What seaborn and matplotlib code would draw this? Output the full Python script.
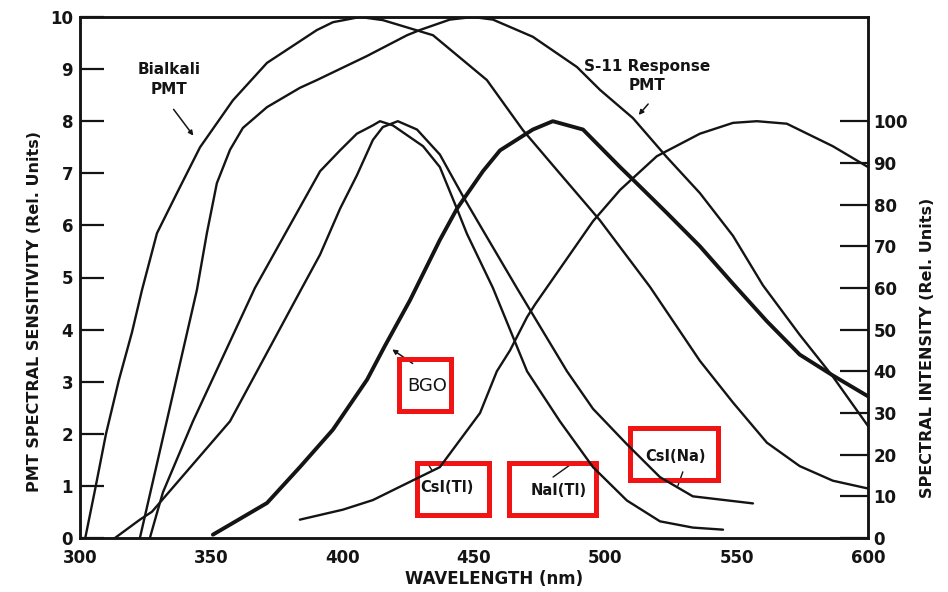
import numpy as np
import pandas as pd
import matplotlib
matplotlib.use("Agg")
import matplotlib.pyplot as plt
import seaborn as sns
from matplotlib.patches import Rectangle

# PMT spectral sensitivity (left axis, rel. units)
bialkali_wl = [302.0, 305.7, 309.9, 314.8, 319.8, 323.6, 329.3, 336.9, 345.7, 358.2, 371.2, 390.2,
               396.3, 406.6, 415.3, 434.4, 454.9, 468.6, 481.6, 497.9, 517.0, 536.0, 548.6, 561.5,
               574.0, 586.6, 600.0]
bialkali_val = [0.0, 0.92, 2.0, 3.03, 3.95, 4.76, 5.85, 6.62, 7.5, 8.4, 9.12, 9.75,
                9.9, 10.0, 9.94, 9.65, 8.79, 7.83, 7.06, 6.1, 4.82, 3.4, 2.6, 1.83,
                1.38, 1.1, 0.95]

s11_wl = [322.8, 333.1, 344.5, 348.3, 352.1, 357.1, 362.0, 371.2, 383.7, 390.2, 409.2, 424.5,
          429.4, 440.8, 449.6, 457.2, 472.4, 489.2, 498.0, 510.5, 523.4, 536.0, 548.6, 560.0,
          574.0, 586.6, 600.0]
s11_val = [0.0, 2.26, 4.76, 5.85, 6.81, 7.45, 7.87, 8.27, 8.64, 8.79, 9.25, 9.65,
           9.75, 9.95, 10.0, 9.95, 9.62, 9.04, 8.6, 8.06, 7.31, 6.62, 5.8, 4.85,
           3.9, 3.1, 2.15]

# emission spectra (right axis, rel. units 0-100)
bgo_wl = [350.6, 358.2, 371.2, 383.7, 396.3, 409.3, 416.0, 425.6, 437.0, 443.5, 453.4, 459.9,
          472.4, 480.0, 491.5, 505.6, 510.5, 523.4, 536.0, 548.6, 561.5, 574.0, 586.6, 600.0]
bgo_int = [0.8, 3.6, 8.4, 17, 26, 38, 46, 57, 71.5, 79, 88, 93,
           98, 100, 98, 89, 86, 78, 70, 61, 52, 44, 39, 34]

csitl_wl = [383.7, 400.1, 411.5, 421.8, 437.0, 452.3, 458.7, 463.7, 470.2, 473.2, 495.3, 505.6,
            519.6, 536.0, 548.6, 557.7, 569.1, 586.6, 600.0]
csitl_int = [4.4, 6.8, 9.1, 12.3, 17, 30, 40, 45, 53, 56, 76, 83.5,
             91.6, 97, 99.6, 100, 99.4, 94, 89]

nai_wl = [326.6, 329.3, 331.6, 343.0, 366.6, 391.4, 399.0, 405.4, 411.5, 414.2, 419.1, 430.6,
          437.0, 443.5, 447.3, 457.2, 470.2, 482.7, 495.3, 508.2, 520.8, 533.3, 544.8]
nai_int = [0, 6, 11, 28, 60, 88, 93, 97, 99, 100, 99, 94,
           89, 79, 73, 60, 40, 28, 17, 9, 4, 2.5, 2]

csina_wl = [313.3, 322.8, 327.4, 357.1, 384.5, 391.4, 399.0, 405.4, 411.5, 415.3, 421.0, 428.3,
            437.0, 445.8, 452.3, 466.3, 485.4, 495.3, 508.2, 520.8, 533.3, 556.2]
csina_int = [0, 4.4, 6.3, 28, 60, 68, 79, 87, 95.5, 98.6, 100, 98,
             92, 82, 75, 60, 40, 31, 22.5, 14.6, 10, 8.3]

x_ticks = [300, 350, 400, 450, 500, 550, 600]
left_ticks = list(range(0, 11))
right_ticks = list(range(0, 101, 10))

pmt = pd.concat([
    pd.DataFrame({'wl': bialkali_wl, 'val': bialkali_val, 'curve': 'Bialkali'}),
    pd.DataFrame({'wl': s11_wl, 'val': s11_val, 'curve': 'S-11'}),
])
emis = pd.concat([
    pd.DataFrame({'wl': csitl_wl, 'val': csitl_int, 'curve': 'CsI(Tl)'}),
    pd.DataFrame({'wl': nai_wl, 'val': nai_int, 'curve': 'NaI(Tl)'}),
    pd.DataFrame({'wl': csina_wl, 'val': csina_int, 'curve': 'CsI(Na)'}),
])
bgo = pd.DataFrame({'wl': bgo_wl, 'val': bgo_int})

sns.set_style("white")
plt.rcParams['font.family'] = ['DejaVu Sans']
plt.rcParams['font.weight'] = 'bold'
ink = '#141414'

fig = plt.figure(figsize=(9.48, 5.92), dpi=100)
ax = fig.add_axes([80 / 948, 54 / 592, 788 / 948, 521 / 592])
ax2 = ax.twinx()

sns.lineplot(data=pmt, x='wl', y='val', units='curve', estimator=None,
             color=ink, lw=1.7, ax=ax)
sns.lineplot(data=emis, x='wl', y='val', units='curve', estimator=None,
             color=ink, lw=1.7, ax=ax2)
sns.lineplot(data=bgo, x='wl', y='val', color=ink, lw=2.8, ax=ax2)

ax.set_xlim(300, 600)
ax.set_ylim(0, 10)
ax2.set_ylim(0, 125)
ax.set_xlabel('')
ax.set_ylabel('')
ax2.set_ylabel('')

ax.set_xticks(x_ticks)
ax.set_yticks(left_ticks)
ax2.set_yticks(right_ticks)
ax.tick_params(axis='x', direction='in', length=18, width=1.0, labelsize=12, pad=8, colors=ink)
ax.tick_params(axis='y', direction='in', length=17, width=1.6, labelsize=12, pad=5,
               right=False, colors=ink)
ax2.tick_params(axis='y', direction='in', length=20, width=1.6, labelsize=12, pad=4,
                left=False, colors=ink)
ax.xaxis.get_major_ticks()[3].tick1line.set_visible(False)

for a in (ax, ax2):
    for s in a.spines.values():
        s.set_visible(True)
        s.set_linewidth(1.8)
        s.set_color(ink)

fig.text(35 / 948, 1 - 311 / 592, 'PMT SPECTRAL SENSITIVITY (Rel. Units)', rotation=90,
         ha='center', va='center', fontsize=11.5, color=ink)
fig.text(928 / 948, 1 - 348 / 592, 'SPECTRAL INTENSITY (Rel. Units)', rotation=90,
         ha='center', va='center', fontsize=11.5, color=ink)
fig.text(494 / 948, 1 - 579 / 592, 'WAVELENGTH (nm)', ha='center', va='center',
         fontsize=12, color=ink)

# curve labels
ax.text(334, 8.8, 'Bialkali\nPMT', ha='center', va='center', fontsize=11,
        linespacing=1.35, color=ink)
ax.text(516, 8.86, 'S-11 Response\nPMT', ha='center', va='center', fontsize=11,
        linespacing=1.35, color=ink)
arrow = dict(arrowstyle='-|>', lw=1.1, color=ink, mutation_scale=7)
ax.annotate('', xy=(343.8, 7.68), xytext=(335, 8.27), arrowprops=arrow)
ax.annotate('', xy=(512, 8.08), xytext=(517, 8.37), arrowprops=arrow)
ax.annotate('', xy=(418.0, 3.65), xytext=(427.5, 3.32), arrowprops=arrow)
ax.plot([480.1, 486.5], [1.17, 1.40], color=ink, lw=1.0)
ax.plot([527.6, 529.5], [1.0, 1.27], color=ink, lw=1.0)
ax.plot([432.5, 434.0], [1.42, 1.30], color=ink, lw=1.0)

ax.text(432.3, 2.92, 'BGO', ha='center', va='center', fontsize=13,
        fontweight='normal', color=ink)
ax.text(439.7, 0.96, 'CsI(Tl)', ha='center', va='center', fontsize=10.5, color=ink)
ax.text(482.3, 0.92, 'NaI(Tl)', ha='center', va='center', fontsize=10.5, color=ink)
ax.text(526.9, 1.57, 'CsI(Na)', ha='center', va='center', fontsize=10.5, color=ink)

# red highlight boxes
boxes = [(421.4, 2.44, 19.8, 1.0), (428.3, 0.44, 27.3, 1.0),
         (463.3, 0.44, 33.1, 1.0), (509.4, 1.11, 33.5, 1.0)]
for x0, y0, w, h in boxes:
    ax.add_patch(Rectangle((x0, y0), w, h, fill=False, edgecolor='#f01414',
                           lw=3.6, zorder=10, clip_on=False))

fig.savefig('out.png', dpi=100)
